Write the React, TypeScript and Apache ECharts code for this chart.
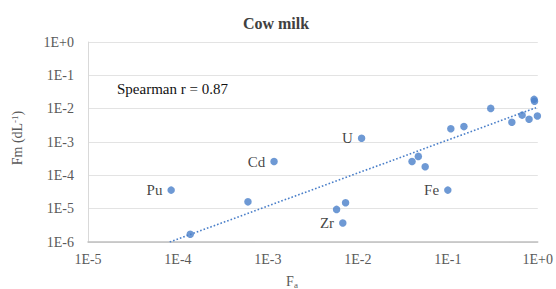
import React, { useEffect, useRef } from "react";
import * as echarts from "echarts";

const faValues = [
  8.4e-5, 1.37e-4, 6.0e-4, 1.17e-3, 5.8e-3, 6.8e-3, 7.3e-3, 0.011, 0.040, 0.047,
  0.056, 0.10, 0.108, 0.151, 0.30, 0.515, 0.67, 0.80, 0.91, 0.92, 0.99,
];
const fmValues = [
  3.6e-5, 1.7e-6, 1.6e-5, 2.6e-4, 9.5e-6, 3.7e-6, 1.5e-5, 1.3e-3, 2.6e-4, 3.7e-4,
  1.8e-4, 3.6e-5, 2.5e-3, 2.9e-3, 0.0102, 0.0039, 0.0064, 0.0048, 0.019, 0.0166, 0.006,
];
const elementLabels = [
  "Pu", "", "", "Cd", "", "Zr", "", "U", "", "", "", "Fe", "", "", "", "", "", "", "", "", "",
];
const trendFa = [8.1e-5, 0.957];
const trendFm = [1e-6, 0.0107];
const titleText = "Cow milk";
const annotationText = "Spearman r = 0.87";

const blue = "#4a7fc9";
const serif = "Liberation Serif";

const tickFmt = (v: number) => {
  const e = Math.round(Math.log10(v));
  return "1E" + (e >= 0 ? "+" : "") + e;
};

export default function App() {
  const ref = useRef<HTMLDivElement>(null);
  useEffect(() => {
    if (!ref.current) return;
    const chart = echarts.init(ref.current, undefined, { renderer: "svg" });
    const points = faValues.map((x, i) => ({
      value: [x, fmValues[i]],
      label: {
        show: elementLabels[i] !== "",
        formatter: elementLabels[i],
        position: "left",
        distance: 5,
        color: "#111",
        fontFamily: serif,
        fontSize: 15,
      },
    }));
    chart.setOption({
      animation: false,
      backgroundColor: "#fff",
      textStyle: { fontFamily: serif },
      title: {
        text: titleText,
        left: 271,
        textAlign: "center",
        top: 10,
        textStyle: { fontFamily: serif, fontSize: 16, fontWeight: "bold", color: "#404040" },
      },
      grid: { left: 88, right: 16, top: 42, bottom: 47 },
      xAxis: {
        type: "log",
        logBase: 10,
        min: 1e-5,
        max: 1,
        axisLine: { show: true, lineStyle: { color: "#bfbfbf", width: 1.5 } },
        axisTick: { show: false },
        splitLine: { show: false },
        axisLabel: {
          formatter: tickFmt,
          fontFamily: serif,
          fontSize: 14,
          color: "#595959",
          margin: 10,
        },
      },
      yAxis: {
        type: "log",
        logBase: 10,
        min: 1e-6,
        max: 1,
        axisLine: { show: true, lineStyle: { color: "#d9d9d9", width: 1 } },
        axisTick: { show: false },
        splitLine: { show: true, lineStyle: { color: "#e3e3e3", width: 1 } },
        axisLabel: {
          formatter: tickFmt,
          fontFamily: serif,
          fontSize: 14,
          color: "#595959",
          margin: 14,
        },
      },
      graphic: [
        {
          type: "text",
          x: 117,
          y: 89,
          style: {
            text: annotationText,
            fontFamily: serif,
            fontSize: 15,
            fill: "#111",
            verticalAlign: "middle",
          },
        },
        {
          type: "text",
          x: 17,
          y: 138,
          rotation: Math.PI / 2,
          style: {
            text: "Fm (dL{s|-1})",
            rich: { s: { fontSize: 9, fontFamily: serif, fill: "#595959", verticalAlign: "top" } },
            fontFamily: serif,
            fontSize: 14,
            fill: "#595959",
            align: "center",
            verticalAlign: "middle",
          },
        },
        {
          type: "text",
          x: 292,
          y: 281,
          style: {
            text: "F{s|a}",
            rich: { s: { fontSize: 9, fontFamily: serif, fill: "#595959", padding: [8, 0, 0, 0] } },
            fontFamily: serif,
            fontSize: 14,
            fill: "#595959",
            align: "center",
            verticalAlign: "middle",
          },
        },
      ],
      series: [
        {
          type: "line",
          data: trendFa.map((x, i) => [x, trendFm[i]]),
          showSymbol: false,
          symbol: "none",
          lineStyle: { color: blue, width: 1.6, type: [1.6, 2] },
          z: 1,
        },
        {
          type: "scatter",
          data: points,
          symbolSize: 7.5,
          itemStyle: { color: blue },
          z: 2,
        },
      ],
    });
    return () => chart.dispose();
  }, []);
  return (
    <div
      ref={ref}
      style={{ position: "fixed", left: 0, top: 0, width: 556, height: 289 }}
    />
  );
}
